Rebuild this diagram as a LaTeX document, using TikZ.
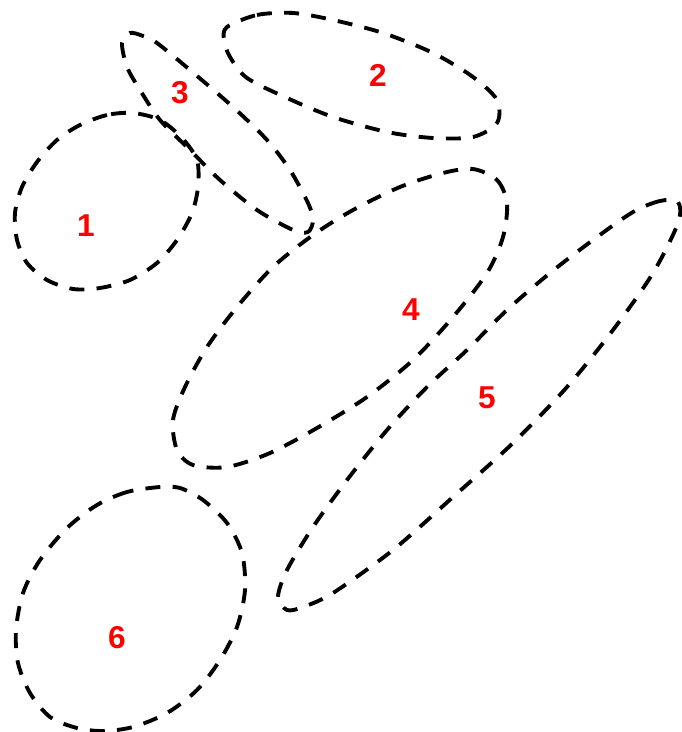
\documentclass[tikz,border=0pt]{standalone}
\usepackage{fontspec}
\setmainfont{Liberation Sans}
\tikzset{
  blob/.style={draw, line width=2.2pt, dash pattern=on 8.5pt off 7pt, line join=round},
  setlabel/.style={text=red, font=\fontsize{18}{18}\selectfont\bfseries, inner sep=0pt}
}
\begin{document}
\begin{tikzpicture}[x=0.02cm, y=-0.02cm]
      \useasboundingbox (0,0) rectangle (681,732);

      % Regions
      \draw[blob] plot[smooth cycle] coordinates {(133,113) (107,115) (80,125) (57,140) (37,162) (22,187) (15,213) (17,240) (27,263) (47,280) (73,289) (100,288) (130,280) (157,263) (177,240) (192,213) (198,187) (197,160) (182,138) (160,120)};
      \draw[blob] plot[smooth cycle] coordinates {(227,27) (257,15) (293,13) (333,20) (383,33) (433,53) (473,77) (497,100) (497,123) (473,137) (433,138) (387,132) (333,117) (287,98) (247,78) (230,57) (224,40)};
      \draw[blob] plot[smooth cycle] coordinates {(130,33) (122,43) (127,67) (140,90) (160,120) (190,150) (220,180) (257,210) (293,230) (308,232) (313,220) (308,203) (290,170) (267,140) (233,107) (190,70) (157,43) (143,36)};
      \draw[blob] plot[smooth cycle] coordinates {(473,169) (497,180) (507,203) (503,237) (487,273) (453,317) (413,360) (367,397) (317,428) (270,453) (227,467) (193,465) (177,450) (173,420) (185,387) (207,347) (237,307) (273,267) (313,235) (353,210) (400,187) (443,173)};
      \draw[blob] plot[smooth cycle] coordinates {(678,202) (660,201) (633,212) (593,240) (550,273) (507,310) (467,350) (427,387) (387,430) (347,480) (313,527) (287,570) (278,597) (287,610) (303,607) (333,593) (393,550) (453,497) (513,443) (567,387) (613,330) (653,273) (678,223)};
      \draw[blob] plot[smooth cycle] coordinates {(160,487) (127,492) (97,505) (67,528) (40,560) (23,593) (16,630) (18,663) (30,693) (50,717) (77,728) (103,731) (133,727) (167,713) (197,690) (220,660) (237,627) (245,590) (242,553) (227,523) (203,500) (180,488)};

      % Labels
      \node (one) at (86,226) [setlabel] {1};
      \node (two) at (378,75) [setlabel] {2};
      \node (three) at (180,93) [setlabel] {3};
      \node (four) at (411,310) [setlabel] {4};
      \node (five) at (487,398) [setlabel] {5};
      \node (six) at (117,638) [setlabel] {6};
\end{tikzpicture}
\end{document}
